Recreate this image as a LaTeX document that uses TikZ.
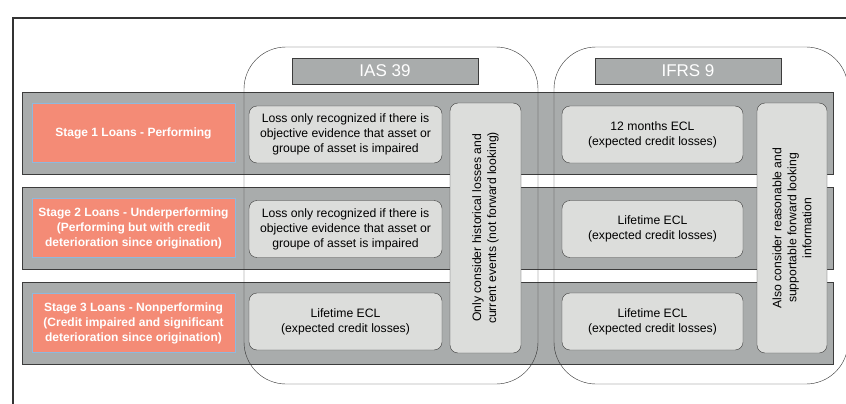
\documentclass[tikz,border=0pt]{standalone}
\usepackage{fontspec}
\setmainfont{Liberation Sans}
\usepackage{tikz}
\usetikzlibrary{positioning}
\usepackage{xcolor}
\definecolor{bandgray}{HTML}{A9ACAC}
\definecolor{boxgray}{HTML}{DCDDDB}
\definecolor{salmon}{HTML}{F48B76}
\definecolor{salmonedge}{HTML}{8DB9DE}
\definecolor{edgedark}{HTML}{3C3C3C}

\begin{document}
\begin{tikzpicture}[
            x=1pt, y=-1pt,
            band/.style={rectangle, draw=edgedark, fill=bandgray, minimum width=811pt, minimum height=82pt, inner sep=0pt},
            stage/.style={rectangle, draw=salmonedge, fill=salmon, text=white, align=center, minimum width=203pt, minimum height=59pt, inner sep=0pt, font=\fontsize{12}{15}\selectfont\bfseries},
            cell/.style={rectangle, draw=edgedark, rounded corners=8pt, fill=boxgray, align=center, minimum height=57pt, inner sep=0pt, font=\fontsize{12.2}{15}\selectfont},
            tallcell/.style={cell, rotate=90, minimum width=250pt},
            header/.style={rectangle, draw=edgedark, fill=bandgray, text=white, minimum width=186pt, minimum height=26pt, inner sep=0pt, font=\fontsize{17}{20}\selectfont},
            frame/.style={draw=black!80, rounded corners=42pt}
        ]
            \useasboundingbox (0,0) rectangle (846,404);
            \clip (0,0) rectangle (846,404);

            % --- OUTER FRAME ---
            \draw[line width=1.2pt, black!80] (13,404) -- (13,18) -- (850,18);

            % --- ROWS ---
            \node[band] (row1) at (427.5,133) {};
            \node[band] (row2) at (427.5,228) {};
            \node[band] (row3) at (427.5,323) {};

            % --- STANDARDS ---
            \draw[frame] (244,47) rectangle (538,384);
            \draw[frame] (554,47) rectangle (848,384);
            \node[header] (ias) at (385,71) {IAS 39};
            \node[header] (ifrs) at (688,71) {IFRS 9};

            % --- STAGES ---
            \node[stage] (stage1) at (133.5,133) {Stage 1 Loans - Performing};
            \node[stage] (stage2) at (133.5,228) {Stage 2 Loans - Underperforming\\(Performing but with credit\\deterioration since origination)};
            \node[stage] (stage3) at (133.5,323) {Stage 3 Loans - Nonperforming\\(Credit impaired and significant\\deterioration since origination)};

            % --- IAS 39 ---
            \node[cell, minimum width=193pt] (ias1) at (345.5,134.5) {Loss only recognized if there is\\objective evidence that asset or\\groupe of asset is impaired};
            \node[cell, minimum width=193pt] (ias2) at (345.5,229) {Loss only recognized if there is\\objective evidence that asset or\\groupe of asset is impaired};
            \node[cell, minimum width=193pt] (ias3) at (345.5,321.5) {Lifetime ECL\\(expected credit losses)};
            \node[tallcell, minimum height=71pt] (iasall) at (485.5,228) {Only consider historical losses and\\current events (not forward looking)};

            % --- IFRS 9 ---
            \node[cell, minimum width=181pt] (ifrs1) at (652.5,134.5) {12 months ECL\\(expected credit losses)};
            \node[cell, minimum width=181pt] (ifrs2) at (652.5,229) {Lifetime ECL\\(expected credit losses)};
            \node[cell, minimum width=181pt] (ifrs3) at (652.5,321.5) {Lifetime ECL\\(expected credit losses)};
            \node[tallcell, minimum height=70pt] (ifrsall) at (792,228) {Also consider reasonable and\\supportable forward looking\\information};

        \end{tikzpicture}
\end{document}
